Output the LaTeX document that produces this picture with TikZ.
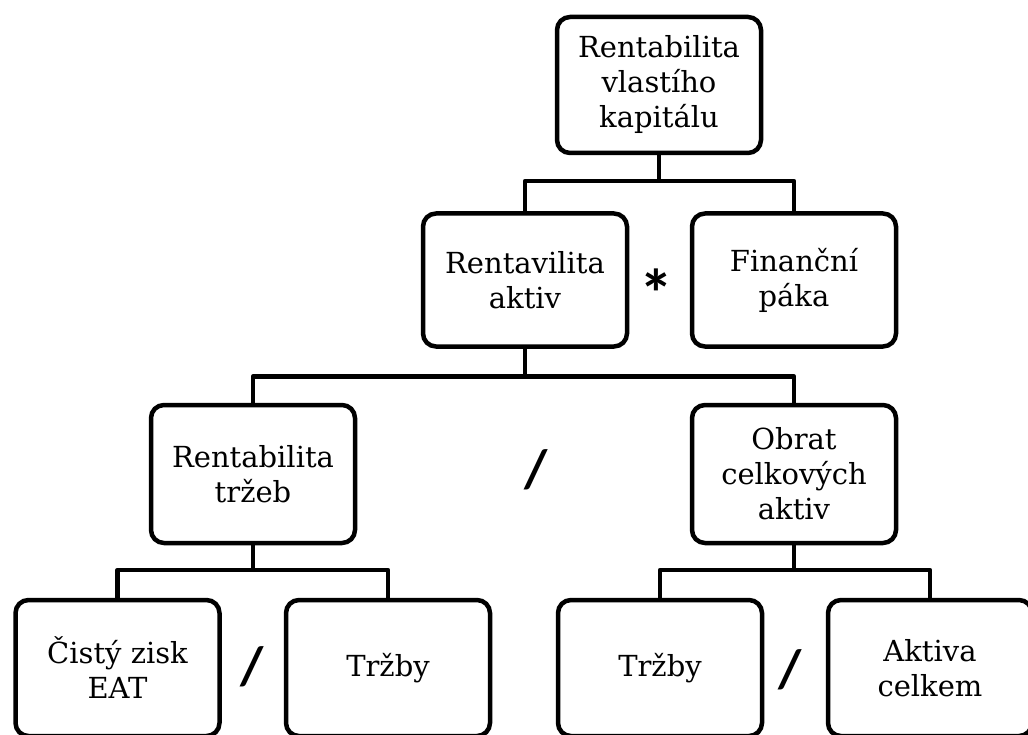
\documentclass[tikz,border=0pt]{standalone}
\usepackage{fontspec}
\setmainfont{DejaVu Serif}
\newfontfamily\opfont{Carlito}
\begin{document}
\begin{tikzpicture}[x=1pt,y=-1pt,
  box/.style={draw=black, line width=4.5pt, rounded corners=13pt, align=center,
    inner sep=0pt, outer sep=0pt, minimum width=204pt,
    font=\fontsize{29}{35}\selectfont},
  conn/.style={draw=black, line width=4.5pt, line join=round},
  op/.style={font=\opfont\bfseries\fontsize{54}{54}\selectfont, inner sep=0pt},
  star/.style={font=\opfont\bfseries\fontsize{68}{68}\selectfont, inner sep=0pt}]
\useasboundingbox (0,0) rectangle (1028,735);
% level 1
\node[box, minimum height=136pt] (roe) at (659,85) {Rentabilita\\vlastího\\kapitálu};
% level 2
\node[box, minimum height=133pt] (roa) at (525,280) {Rentavilita\\aktiv};
\node[box, minimum height=133pt] (fp) at (794,280) {Finanční\\páka};
% level 3
\node[box, minimum height=138pt] (ros) at (253,474) {Rentabilita\\tržeb};
\node[box, minimum height=138pt] (oca) at (794,474) {Obrat\\celkových\\aktiv};
% level 4
\node[box, minimum height=136pt] (eat) at (117.5,668) {Čistý zisk\\EAT};
\node[box, minimum height=136pt] (tr1) at (388,668) {Tržby};
\node[box, minimum height=136pt] (tr2) at (660,668) {Tržby};
\node[box, minimum height=136pt] (ak) at (930,668) {Aktiva\\celkem};
% operators
\node[star] (m1) at (656,293) {*};
\node[op] (d1) at (536,470) {/};
\node[op] (d2) at (252,667) {/};
\node[op] (d3) at (790,670) {/};
% connectors
\path (roe.south) ++(0,28) coordinate (j1);
\path (roa.south) ++(0,30) coordinate (j2);
\path (ros.south) ++(0,27) coordinate (j3);
\path (oca.south) ++(0,27) coordinate (j4);
\draw[conn] (roe.south) -- (j1);
\draw[conn] (roa.north) |- (j1) -| (fp.north);
\draw[conn] (roa.south) -- (j2);
\draw[conn] (ros.north) |- (j2) -| (oca.north);
\draw[conn] (ros.south) -- (j3);
\draw[conn] (eat.north) |- (j3) -| (tr1.north);
\draw[conn] (oca.south) -- (j4);
\draw[conn] (tr2.north) |- (j4) -| (ak.north);
\end{tikzpicture}
\end{document}
